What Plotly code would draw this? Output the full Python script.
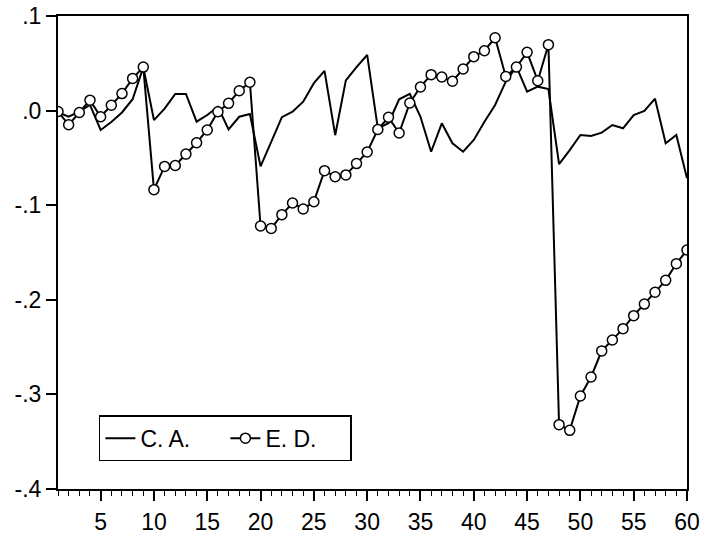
import plotly.graph_objects as go

periods = list(range(1, 61))

ca = [
    -0.002, -0.0065, -0.001, 0.006, -0.0205, -0.012, -0.002, 0.012, 0.046, -0.010,
    0.002, 0.0176, 0.0176, -0.0117, -0.0047, 0.004, -0.0198, -0.0065, -0.0036, -0.059,
    -0.033, -0.007, -0.0012, 0.0094, 0.029, 0.042, -0.026, 0.032, 0.046, 0.0588,
    -0.0187, -0.0134, 0.012, 0.0176, -0.0065, -0.0435, -0.0134, -0.0346, -0.0435, -0.031,
    -0.0117, 0.006, 0.0306, 0.0464, 0.020, 0.0253, 0.0228, -0.0565, -0.0417, -0.0258,
    -0.0269, -0.0233, -0.0152, -0.0187, -0.0047, -0.0004, 0.0126, -0.0346, -0.0258, -0.0716,
]

ed = [
    -0.001, -0.015, -0.002, 0.011, -0.0065, 0.0056, 0.018, 0.034, 0.046, -0.0836,
    -0.059, -0.058, -0.046, -0.034, -0.0205, -0.0012, 0.0077, 0.021, 0.030, -0.122,
    -0.1245, -0.110, -0.0977, -0.104, -0.0963, -0.0635, -0.0699, -0.068, -0.056, -0.0438,
    -0.020, -0.0071, -0.0237, 0.008, 0.025, 0.038, 0.0355, 0.031, 0.044, 0.057,
    0.0633, 0.077, 0.036, 0.046, 0.0616, 0.0316, 0.0697, -0.332, -0.338, -0.3017,
    -0.2816, -0.254, -0.2425, -0.2305, -0.2168, -0.2045, -0.192, -0.1794, -0.1618, -0.1474,
]

y_tick_vals = [0.1, 0.0, -0.1, -0.2, -0.3, -0.4]
y_tick_text = [".1", ".0", "-.1", "-.2", "-.3", "-.4"]
x_tick_vals = [5, 10, 15, 20, 25, 30, 35, 40, 45, 50, 55, 60]

font_family = "Liberation Sans, Arial, sans-serif"
font_size = 23

fig = go.Figure()
fig.add_trace(go.Scatter(
    x=periods, y=ca, mode="lines", name="C. A.",
    line=dict(color="black", width=2),
))
fig.add_trace(go.Scatter(
    x=periods, y=ed, mode="lines+markers", name="E. D.",
    line=dict(color="black", width=2),
    marker=dict(symbol="circle", size=10, color="white",
                line=dict(color="black", width=1.5)),
))

fig.update_layout(
    width=705, height=537,
    margin=dict(l=58, r=18, t=16, b=48),
    paper_bgcolor="white", plot_bgcolor="white",
    font=dict(family=font_family, size=font_size, color="black"),
    showlegend=True,
    legend=dict(
        x=0.065, y=0.156, xanchor="left", yanchor="top",
        orientation="h",
        bordercolor="black", borderwidth=1.5, bgcolor="white",
        font=dict(size=font_size),
        entrywidth=80, entrywidthmode="pixels",
    ),
)

fig.update_xaxes(
    range=[1, 60], showgrid=False, zeroline=False, automargin=False,
    showline=True, linecolor="black", linewidth=2, mirror=True,
    tickmode="array", tickvals=x_tick_vals,
    ticks="outside", ticklen=10, tickwidth=1.5, tickcolor="black",
    minor=dict(dtick=1, tick0=0, ticks="outside", ticklen=5,
               tickwidth=1.2, tickcolor="black", showgrid=False),
    tickfont=dict(size=font_size),
    ticklabelstandoff=1,
)
fig.update_yaxes(
    range=[-0.4, 0.1], showgrid=False, zeroline=False, automargin=False,
    showline=True, linecolor="black", linewidth=2, mirror=True,
    tickmode="array", tickvals=y_tick_vals, ticktext=y_tick_text,
    ticks="outside", ticklen=10, tickwidth=1.5, tickcolor="black",
    tickfont=dict(size=font_size),
)

fig.write_html("out.html")
